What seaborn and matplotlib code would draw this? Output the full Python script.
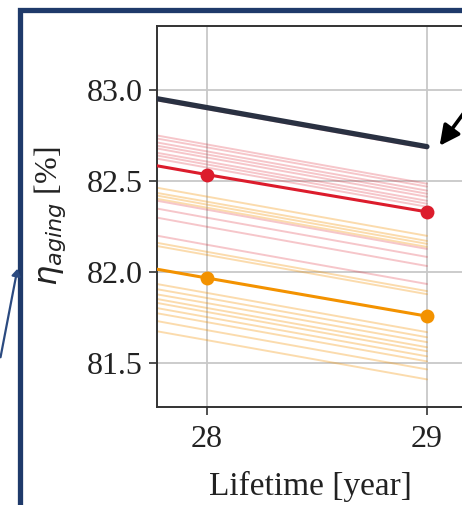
import numpy as np
import pandas as pd
import matplotlib
matplotlib.use("Agg")
import matplotlib.pyplot as plt
from matplotlib.patches import FancyArrowPatch, Rectangle
import seaborn as sns

# ---------------- data ----------------
years = [27, 28, 29]

ref_line = [83.12, 82.905, 82.69]          # dark reference line
red_main = [82.75, 82.536, 82.331]
orange_main = [82.18, 81.967, 81.757]

red_faint = [
    [83.11, 82.896, 82.680],
    [82.92, 82.702, 82.486],
    [82.90, 82.686, 82.470],
    [82.88, 82.664, 82.448],
    [82.86, 82.647, 82.431],
    [82.85, 82.630, 82.414],
    [82.82, 82.608, 82.392],
    [82.81, 82.592, 82.376],
    [82.79, 82.575, 82.359],
    [82.56, 82.343, 82.127],
    [82.52, 82.299, 82.083],
    [82.47, 82.249, 82.033],
    [82.37, 82.150, 81.934],
]
orange_faint = [
    [82.63, 82.415, 82.199],
    [82.60, 82.387, 82.171],
    [82.59, 82.371, 82.155],
    [82.57, 82.354, 82.138],
    [82.33, 82.111, 81.895],
    [82.31, 82.094, 81.878],
    [82.10, 81.885, 81.669],
    [82.07, 81.857, 81.641],
    [82.04, 81.829, 81.614],
    [82.02, 81.802, 81.586],
    [82.00, 81.780, 81.564],
    [81.97, 81.752, 81.536],
    [81.94, 81.724, 81.508],
    [81.90, 81.680, 81.464],
    [81.84, 81.625, 81.409],
]

x_ticks = [28, 29]
y_ticks = [81.5, 82.0, 82.5, 83.0]
x_label = "Lifetime [year]"
y_label = r"$\eta_{aging}$ [%]"

# ---------------- style ----------------
sns.set_style("ticks")
plt.rcParams["font.family"] = ["Liberation Serif", "DejaVu Serif"]
plt.rcParams["mathtext.fontset"] = "dejavusans"

W, H = 462, 505
fig = plt.figure(figsize=(W / 100, H / 100), dpi=100)

# axes placement (pixels): left=157, top=26, bottom=407; extends just beyond right edge
x0, x1 = 27.773, 29.17
px_per_year = 220
ax_left, ax_top, ax_bot = 157, 26, 407
ax_w = (x1 - x0) * px_per_year
ax = fig.add_axes([ax_left / W, 1 - ax_bot / H, ax_w / W, (ax_bot - ax_top) / H])

RED = "#dc1c2c"
ORANGE = "#f39200"
NAVY = "#2a3142"

for vals in orange_faint:
    sns.lineplot(x=years, y=vals, color=ORANGE, alpha=0.32, linewidth=1.4, ax=ax)
for vals in red_faint:
    sns.lineplot(x=years, y=vals, color=RED, alpha=0.25, linewidth=1.4, ax=ax)

sns.lineplot(x=years, y=ref_line, color=NAVY, linewidth=3.8, ax=ax, zorder=5)
sns.lineplot(x=years, y=red_main, color=RED, linewidth=2.2, marker="o",
             markersize=10, markeredgewidth=0, ax=ax, zorder=6)
sns.lineplot(x=years, y=orange_main, color=ORANGE, linewidth=2.2, marker="o",
             markersize=10, markeredgewidth=0, ax=ax, zorder=6)

ax.set_xlim(x0, x1)
ax.set_ylim(81.257, 83.354)
ax.set_xticks(x_ticks)
ax.set_yticks(y_ticks)
ax.set_yticklabels([f"{v:.1f}" for v in y_ticks])
ax.grid(True, color="#c8c8c8", linewidth=1.3)
ax.set_axisbelow(True)
for s in ax.spines.values():
    s.set_color("#333333")
    s.set_linewidth(1.4)
ax.tick_params(axis="both", labelsize=23, length=6, width=1.2, color="#333333",
               labelcolor="#222222")
ax.tick_params(axis="x", pad=7)
ax.tick_params(axis="y", pad=4)
ax.set_xlabel(x_label, fontsize=24, color="#222222", labelpad=12)
ax.set_ylabel(y_label, fontsize=23, color="#222222", labelpad=14)

# ---------------- decorations (figure pixels) ----------------
def fp(x, y):
    return (x / W, 1 - y / H)

FRAME = "#1f3a6a"
frame = Rectangle(fp(20, 560), (600) / W, (560 - 10) / H,
                  transform=fig.transFigure, fill=False, edgecolor=FRAME,
                  linewidth=3.8, clip_on=False)
fig.patches.append(frame)

blue_arrow = FancyArrowPatch(fp(0, 360), fp(18, 266), transform=fig.transFigure,
                             arrowstyle="-|>,head_length=4,head_width=2.5",
                             color="#2b4a80", linewidth=1.6, mutation_scale=1)
fig.patches.append(blue_arrow)

black_arrow = FancyArrowPatch(fp(466, 110), fp(438, 148), transform=fig.transFigure,
                              arrowstyle="-|>,head_length=12,head_width=6",
                              color="black", linewidth=2.6, mutation_scale=1)
fig.patches.append(black_arrow)

fig.savefig("out.png", dpi=100)
